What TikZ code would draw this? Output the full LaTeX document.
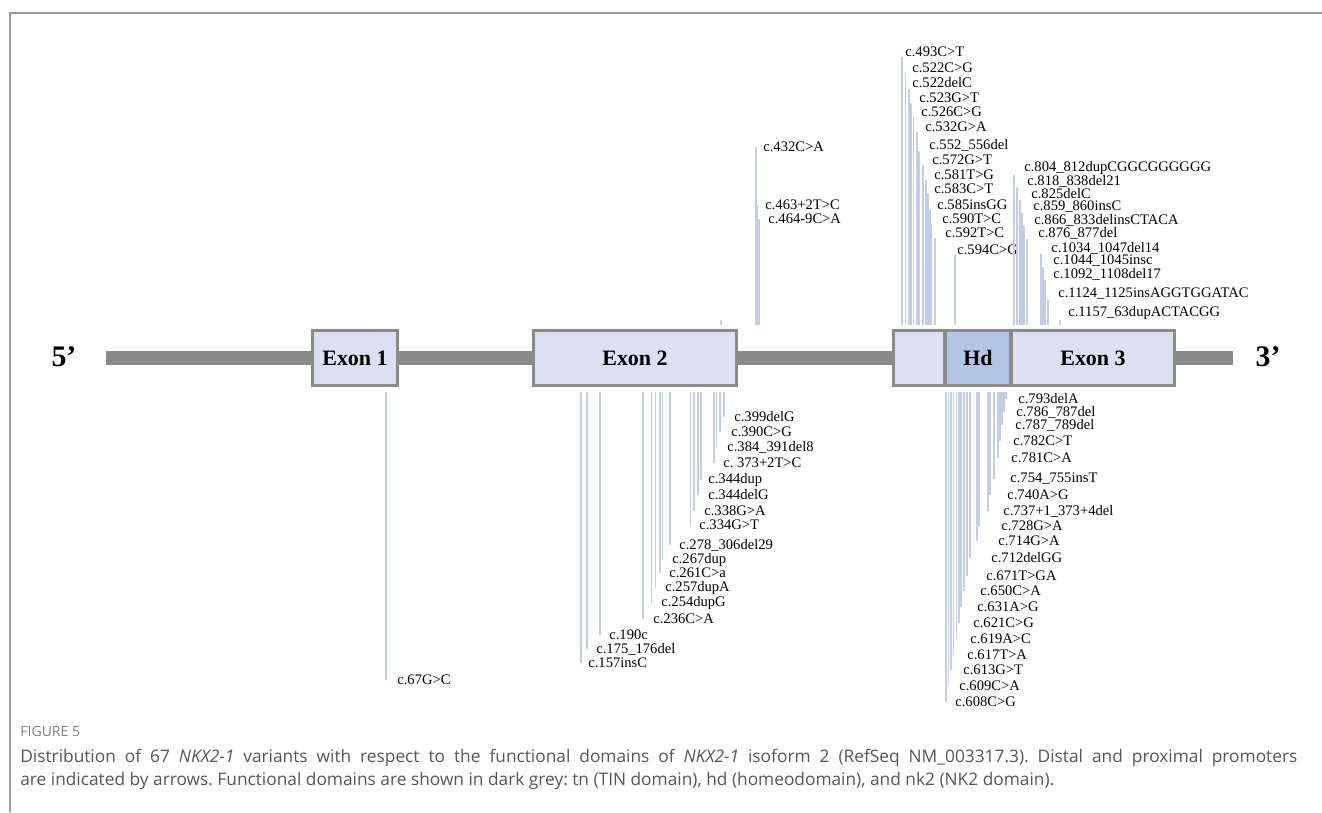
\documentclass[tikz,border=0pt]{standalone}
\usepackage{fontspec}
\setmainfont{Liberation Serif}
\setsansfont{Open Sans}
\usepackage{tikz}
\usetikzlibrary{positioning}
\frenchspacing

\definecolor{bargray}{HTML}{8A8A8A}
\definecolor{exonfill}{HTML}{DCE1F2}
\definecolor{hdfill}{HTML}{B3C5E6}
\definecolor{varblue}{HTML}{C3CDEA}
\definecolor{framegray}{HTML}{9A9A9A}
\definecolor{captext}{HTML}{555555}

\begin{document}
\begin{tikzpicture}[
      x=0.02cm, y=-0.02cm,%
      backbone/.style={bargray, line width=7.9pt},%
      exonbox/.style={draw=bargray, line width=1.7pt, fill=exonfill,
        minimum height=31.75pt, inner sep=0pt,
        font=\fontsize{12.5}{14}\selectfont\bfseries},%
      endlabel/.style={inner sep=0pt, font=\fontsize{17}{19}\selectfont\bfseries},%
      varlabel/.style={anchor=west, inner sep=0pt, font=\fontsize{8.3}{10}\selectfont},%
      varline/.style={varblue, line width=0.6pt},%
      caption/.style={anchor=west, inner sep=0pt, text=captext,
        font=\sffamily\fontsize{9.85}{12}\selectfont}%
    ]
    \useasboundingbox (0,0) rectangle (1322,812);

    %% Page frame
    \draw[framegray, line width=0.8pt] (10,812) -- (10,13) -- (1322,13);

    %% Backbone
    \coordinate (barL) at (106,358);
    \coordinate (barR) at (1233,358);
    \draw[backbone] (barL) -- (barR);

    \node[endlabel] (five)  at (64,357)   {5’};
    \node[endlabel] (three) at (1268,357) {3’};

    %% Edges the variant lines run to
    \coordinate (topedge) at (0,325);
    \coordinate (botedge) at (0,392);

    %% Variants above, left of Hd
    \foreach \lx/\tx/\ty/\txt [count=\i] in {
        902/905/52/c.493C>T, 905.5/912/68/c.522C>G, 909/912/83/c.522delC,
        911/919/98/c.523G>T, 913.5/921/112/c.526C>G, 917/925/127/c.532G>A,
        919/929/145/c.552\_556del, 923/932/160/c.572G>T, 926/934/175/c.581T>G,
        928/934/189/c.583C>T, 930/937/205/c.585insGG, 931/942/219/c.590T>C,
        935/945/233/c.592T>C, 955/957/250/c.594C>G} {
      \node[varlabel] (up\i) at (\tx,\ty) {\txt};
      \draw[varline] (up\i.south -| \lx,0) -- (topedge -| \lx,0);
    }

    %% Variants above, Exon 3
    \foreach \lx/\tx/\ty/\txt [count=\i] in {
        1014/1024/168/c.804\_812dupCGGCGGGGGG, 1017/1027/181/c.818\_838del21,
        1020/1031/194/c.825delC, 1022/1033/207/c.859\_860insC,
        1024/1034/220/c.866\_833delinsCTACA, 1027/1038/233/c.876\_877del,
        1041/1051/248/c.1034\_1047del14, 1043/1053/261/c.1044\_1045insc,
        1045/1053/274/c.1092\_1108del17, 1048/1058/294/c.1124\_1125insAGGTGGATAC,
        1060/1068/313/c.1157\_63dupACTACGG} {
      \node[varlabel] (rt\i) at (\tx,\ty) {\txt};
      \draw[varline] (rt\i.south -| \lx,0) -- (topedge -| \lx,0);
    }

    %% Variants above, intron 2
    \foreach \lx/\tx/\ty/\txt [count=\i] in {
        756/763/147/c.432C>A, 757.5/765/205/c.463+2T>C, 759/768/219/c.464-9C>A} {
      \node[varlabel] (mid\i) at (\tx,\ty) {\txt};
      \draw[varline] (mid\i.west -| \lx,0) -- (topedge -| \lx,0);
    }
    \coordinate (tick) at (721,320);
    \draw[varline] (tick) -- (topedge -| tick);

    %% Variants below, Exon 1 and Exon 2
    \foreach \lx/\tx/\ty/\txt [count=\i] in {
        386/397/680/c.67G>C,
        724/734/417/c.399delG, 720/731/432/c.390C>G, 716.5/727/447/c.384\_391del8,
        714/723/463/c. 373+2T>C, 701/708/480/c.344dup, 698/708/495/c.344delG,
        694/704/511/c.338G>A, 690.5/699/525/c.334G>T, 670/679/545/c.278\_306del29,
        662.5/672/560/c.267dup, 660/669/573/c.261C>a, 655.5/665/588/c.257dupA,
        651.5/661/603/c.254dupG, 643/653/619/c.236C>A, 600/609/635/c.190c,
        587/596/649/c.175\_176del, 581/588/663/c.157insC} {
      \node[varlabel] (lowB\i) at (\tx,\ty) {\txt};
      \draw[varline] (botedge -| \lx,0) -- (lowB\i.west -| \lx,0);
    }

    %% Variants below, Hd and Exon 3
    \foreach \lx/\tx/\ty/\txt [count=\i] in {
        1006/1018/399/c.793delA, 1004/1016/412/c.786\_787del,
        1002/1015/425/c.787\_789del, 1000/1013/441/c.782C>T, 998/1011/458/c.781C>A,
        994/1010/479/c.754\_755insT, 990/1007/495/c.740A>G,
        988/1003/511/c.737+1\_373+4del, 979/1001/526/c.728G>A, 977/998/541/c.714G>A,
        970/991/558/c.712delGG, 967/986/576/c.671T>GA, 964/980/591/c.650C>A,
        961/977/607/c.631A>G, 959/973/623/c.621C>G, 956.5/970/639/c.619A>C,
        953.5/967/655/c.617T>A, 951/963/670/c.613G>T, 948.5/959/686/c.609C>A,
        946/955/702/c.608C>G} {
      \node[varlabel] (lowC\i) at (\tx,\ty) {\txt};
      \draw[varline] (botedge -| \lx,0) -- (lowC\i.west -| \lx,0);
    }

    %% Exons (widths in pt: 1px = 0.567pt)
    \node[exonbox, minimum width=48.75pt]  (exonA) at (355,358)  {Exon 1};
    \node[exonbox, minimum width=115.65pt] (exonB) at (635,358)  {Exon 2};
    \node[exonbox, minimum width=29.5pt]   (pre)   at (919,358)  {};
    \node[exonbox, minimum width=37.4pt, fill=hdfill] (hd) at (978,358) {Hd};
    \node[exonbox, minimum width=93pt]     (exonC) at (1093,358) {Exon 3};

    %% Caption
    \node[caption, text=gray, font=\sffamily\fontsize{8}{10}\selectfont] (fig) at (20,731) {FIGURE 5};
    \node[caption] (capA) at (20,758) {\makebox[726.8pt][s]{Distribution of 67 \textit{NKX2-1} variants with respect to the functional domains of \textit{NKX2-1} isoform 2 (RefSeq NM\_003317.3). Distal and proximal promoters}};
    \node[caption] (capB) at (20,781) {are indicated by arrows. Functional domains are shown in dark grey: tn (TIN domain), hd (homeodomain), and nk2 (NK2 domain).};
  \end{tikzpicture}
\end{document}
